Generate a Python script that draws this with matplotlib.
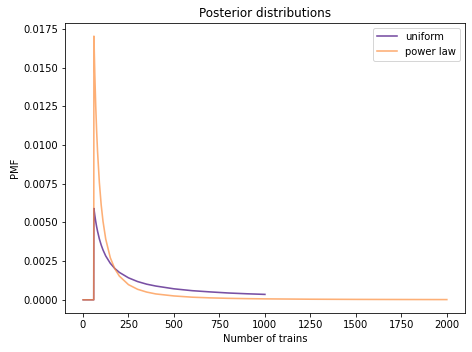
import matplotlib
matplotlib.use("Agg")
import matplotlib.pyplot as plt

# Uniform prior posterior
uni_x = [1, 59, 60, 65, 70, 75, 80, 90, 100, 110, 125, 150, 175, 200, 250, 300,
         350, 400, 500, 600, 700, 800, 900, 1000]
uni_y = [0.0, 0.0, 0.00590, 0.00545, 0.00506, 0.00472, 0.00443, 0.00393, 0.00354,
         0.00322, 0.00283, 0.00236, 0.00202, 0.00177, 0.00142, 0.00118, 0.00101,
         0.00089, 0.00071, 0.00059, 0.00051, 0.00044, 0.00039, 0.00035]

# Power law prior posterior
pow_x = [1, 59, 60, 65, 70, 75, 80, 90, 100, 110, 125, 150, 175, 200, 250, 300,
         350, 400, 500, 600, 700, 800, 900, 1000, 1250, 1500, 1750, 2000]
pow_y = [0.0, 0.0, 0.01703, 0.01451, 0.01251, 0.01090, 0.00958, 0.00757, 0.00613,
         0.00507, 0.00392, 0.00272, 0.00200, 0.00153, 0.00098, 0.00068, 0.00050,
         0.00038, 0.00025, 0.00017, 0.000125, 0.000096, 0.000076, 0.000061,
         0.000039, 0.000027, 0.000020, 0.000015]

plt.rcParams['font.size'] = 10
fig = plt.figure(figsize=(472/72, 352/72), dpi=72)
ax = fig.add_axes([0.1377, 0.1108, 0.8475, 0.824])
ax.plot(uni_x, uni_y, color='#6a3d9a', alpha=0.9, lw=1.6, label='uniform')
ax.plot(pow_x, pow_y, color='#fd8d3c', alpha=0.7, lw=1.6, label='power law')
ax.set_xlabel('Number of trains')
ax.set_ylabel('PMF', labelpad=3)
ax.set_title('Posterior distributions')
ax.legend(loc='upper right')
fig.savefig('out.png', dpi=72)
